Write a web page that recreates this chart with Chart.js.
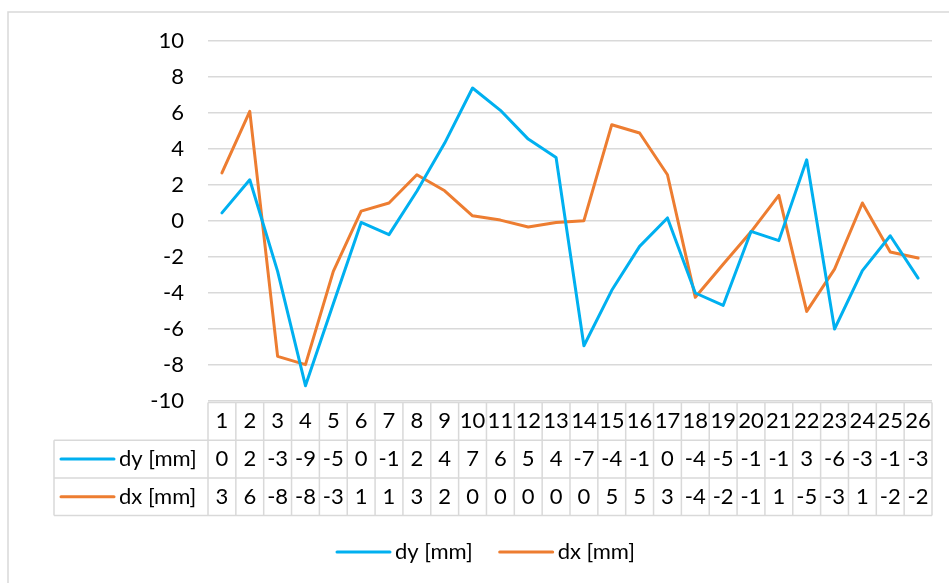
<!DOCTYPE html>
<html>
<head>
<meta charset="utf-8">
<script src="https://cdn.jsdelivr.net/npm/chart.js@4/dist/chart.umd.min.js"></script>
<style>
    html, body { margin: 0; padding: 0; background: #fff; }
    #wrap { width: 949px; height: 583px; position: relative; }
</style>
</head>
<body>
<div id="wrap"><canvas id="lineChart"></canvas></div>
<script>
// categories (measurement points)
const points = ['1', '2', '3', '4', '5', '6', '7', '8', '9', '10', '11', '12', '13',
    '14', '15', '16', '17', '18', '19', '20', '21', '22', '23', '24', '25', '26'];

// series values
const dyValues = [0.45, 2.29, -2.8, -9.15, -4.6, -0.08, -0.76, 1.65, 4.33, 7.39, 6.15, 4.55, 3.53,
    -6.93, -3.85, -1.41, 0.17, -4.0, -4.69, -0.58, -1.09, 3.4, -6.0, -2.76, -0.82, -3.17];
const dxValues = [2.67, 6.09, -7.52, -7.98, -2.8, 0.55, 1.0, 2.57, 1.68, 0.29, 0.05, -0.33, -0.08,
    0.02, 5.35, 4.89, 2.57, -4.24, -2.4, -0.6, 1.42, -5.02, -2.67, 1.0, -1.72, -2.06];

const seriesNames = ['dy [mm]', 'dx [mm]'];
const seriesColors = ['#00b0f0', '#ed7d31'];

const FONT = 'Lato, "Open Sans", sans-serif';
const FONT_SIZE = 22;
const GRID = '#d9d9d9';

// data table + legend under the plot (Excel style)
const dataTablePlugin = {
    id: 'dataTable',
    beforeDraw(chart) {
        const ctx = chart.ctx;
        ctx.save();
        ctx.strokeStyle = GRID;
        ctx.lineWidth = 1.5;
        ctx.strokeRect(8, 12, 1200, 1200);
        ctx.restore();
    },
    afterDraw(chart) {
        const ctx = chart.ctx;
        const area = chart.chartArea;
        const xs = chart.scales.x;
        const step = (area.right - area.left) / points.length;
        const rowH = 37.7;
        const top = area.bottom + 1.5;
        const tableLeft = 54;
        const rows = [points, dyValues.map(v => String(Math.round(v) || 0)), dxValues.map(v => String(Math.round(v) || 0))];

        ctx.save();
        ctx.strokeStyle = GRID;
        ctx.lineWidth = 1.5;
        ctx.beginPath();
        // horizontal lines
        ctx.moveTo(area.left, top); ctx.lineTo(area.right, top);
        for (let r = 1; r <= 3; r++) {
            ctx.moveTo(tableLeft, top + rowH * r);
            ctx.lineTo(area.right, top + rowH * r);
        }
        // vertical lines
        for (let i = 0; i <= points.length; i++) {
            const x = area.left + step * i;
            ctx.moveTo(x, top); ctx.lineTo(x, top + rowH * 3);
        }
        ctx.moveTo(tableLeft, top + rowH); ctx.lineTo(tableLeft, top + rowH * 3);
        ctx.stroke();

        ctx.fillStyle = '#000';
        ctx.font = FONT_SIZE + 'px ' + FONT;
        ctx.textAlign = 'center';
        ctx.textBaseline = 'middle';
        rows.forEach((row, r) => {
            const y = top + rowH * r + rowH / 2;
            row.forEach((txt, i) => {
                ctx.fillText(txt, xs.getPixelForValue(i), y);
            });
        });

        // series keys in the table
        ctx.textAlign = 'left';
        ctx.lineCap = 'round';
        ctx.lineWidth = 3;
        seriesNames.forEach((name, s) => {
            const y = top + rowH * (s + 1) + rowH / 2;
            ctx.strokeStyle = seriesColors[s];
            ctx.beginPath();
            ctx.moveTo(tableLeft + 7, y);
            ctx.lineTo(tableLeft + 60, y);
            ctx.stroke();
            ctx.fillText(name, tableLeft + 65, y);
        });

        // legend at the bottom
        let lx = 337;
        const ly = 552;
        seriesNames.forEach((name, s) => {
            ctx.strokeStyle = seriesColors[s];
            ctx.beginPath();
            ctx.moveTo(lx, ly);
            ctx.lineTo(lx + 53, ly);
            ctx.stroke();
            ctx.fillText(name, lx + 58, ly);
            lx += 58 + ctx.measureText(name).width + 27;
        });
        ctx.restore();
    }
};

const ctx = document.getElementById('lineChart').getContext('2d');

const config = {
    type: 'line',
    data: {
        labels: points,
        datasets: [
            {
                label: seriesNames[0],
                data: dyValues,
                borderColor: seriesColors[0],
                backgroundColor: seriesColors[0],
                borderWidth: 3,
                pointRadius: 0,
                tension: 0,
                borderCapStyle: 'round',
                borderJoinStyle: 'round'
            },
            {
                label: seriesNames[1],
                data: dxValues,
                borderColor: seriesColors[1],
                backgroundColor: seriesColors[1],
                borderWidth: 3,
                pointRadius: 0,
                tension: 0,
                borderCapStyle: 'round',
                borderJoinStyle: 'round'
            }
        ]
    },
    options: {
        responsive: true,
        maintainAspectRatio: false,
        animation: false,
        layout: {
            padding: { top: 41, right: 17, bottom: 0, left: 0 }
        },
        plugins: {
            tooltip: { enabled: false },
            legend: { display: false }
        },
        scales: {
            y: {
                min: -10,
                max: 10,
                ticks: {
                    stepSize: 2,
                    padding: 24,
                    color: '#000',
                    font: { family: FONT, size: FONT_SIZE }
                },
                grid: { color: GRID, lineWidth: 1.5, drawTicks: false },
                border: { display: false },
                afterFit(axis) { axis.width = 208; }
            },
            x: {
                offset: true,
                ticks: { display: false },
                grid: { display: false },
                border: { display: false },
                afterFit(axis) { axis.height = 182; }
            }
        }
    },
    plugins: [dataTablePlugin]
};

const lineChart = new Chart(ctx, config);
</script>
</body>
</html>
